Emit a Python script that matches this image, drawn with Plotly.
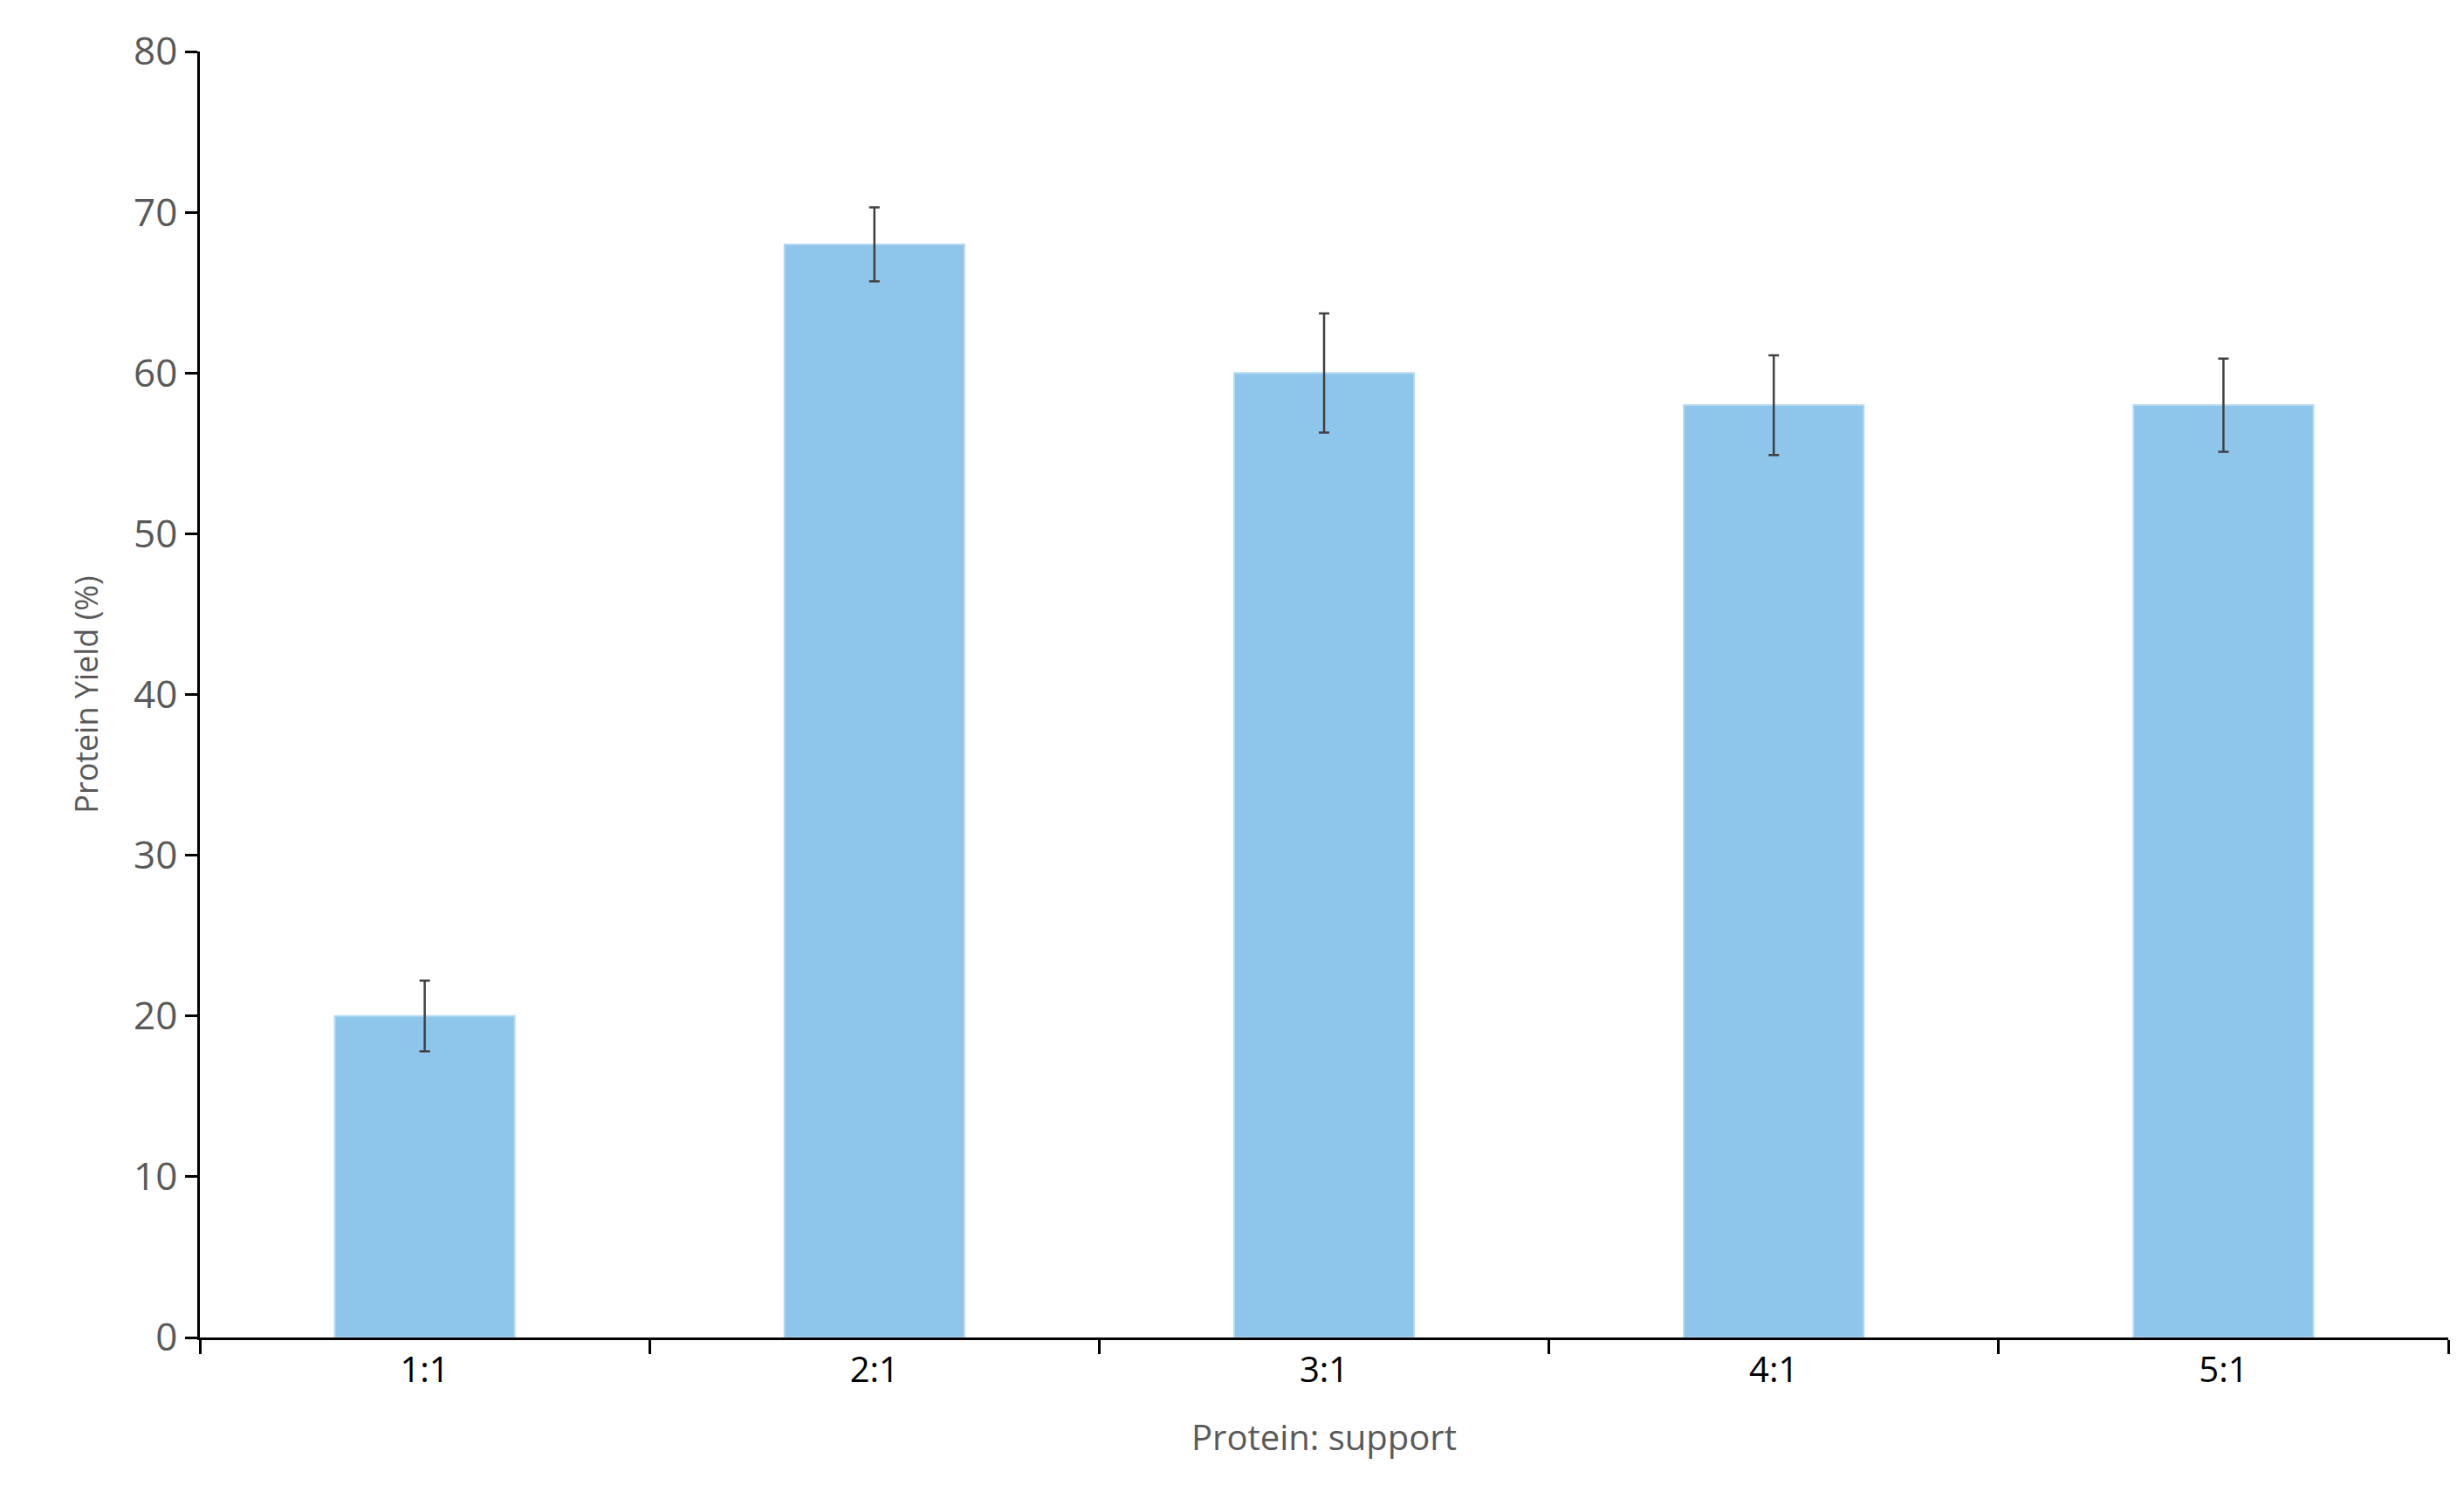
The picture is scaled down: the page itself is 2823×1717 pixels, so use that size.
import plotly.graph_objects as go

categories = ["1:1", "2:1", "3:1", "4:1", "5:1"]
values = [20, 68, 60, 58, 58]
errors = [2.2, 2.3, 3.7, 3.1, 2.9]

fig = go.Figure(go.Bar(
    x=categories, y=values, width=0.4,
    marker=dict(color="#8EC5EA", line=dict(color="#B5D9F2", width=2)),
    error_y=dict(type="data", array=errors, color="#404040", thickness=2.5, width=6),
))
fig.update_layout(
    width=2823, height=1717, paper_bgcolor="white", plot_bgcolor="white",
    margin=dict(l=221, r=26, t=51, b=193),
    font=dict(family="Open Sans, Liberation Sans", color="#595959"),
    showlegend=False,
)
fig.update_xaxes(
    showline=True, linecolor="black", linewidth=2.5,
    ticks="outside", tickson="boundaries", ticklen=16, tickcolor="black", tickwidth=2.5,
    tickfont=dict(size=40, color="black"),
    title=dict(text="Protein: support", font=dict(size=40, color="#595959"), standoff=40),
)
fig.update_yaxes(
    range=[0, 80], dtick=10, showgrid=False, zeroline=False,
    showline=True, linecolor="black", linewidth=2.5,
    ticks="outside", ticklen=14, tickcolor="black", tickwidth=2.5,
    tickfont=dict(size=44, color="#595959"),
    title=dict(text="Protein Yield (%)", font=dict(size=36, color="#595959"), standoff=30),
)
fig.write_html("out.html")
